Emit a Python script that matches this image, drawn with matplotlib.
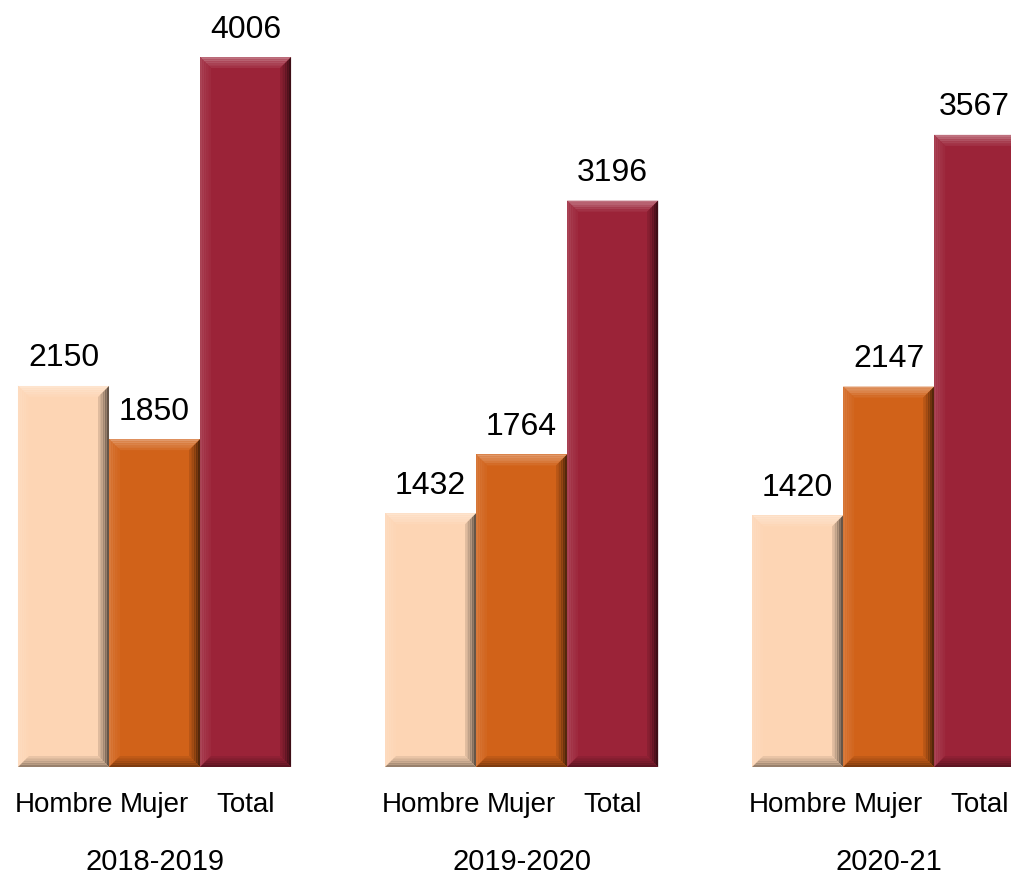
import matplotlib
matplotlib.use("Agg")
import matplotlib.pyplot as plt
from matplotlib.patches import Polygon
import numpy as np

periodos = ["2018-2019", "2019-2020", "2020-21"]
categorias = ["Hombre", "Mujer", "Total"]
hombre = [2150, 1432, 1420]
mujer = [1850, 1764, 2147]
total = [4006, 3196, 3567]

colores = ["#FDD5B4", "#D16219", "#9B2338"]

plt.rcParams["font.family"] = ["Liberation Sans", "DejaVu Sans"]


def shade(c, f):
    r = np.array(matplotlib.colors.to_rgb(c))
    if f > 0:
        return tuple(r + (1 - r) * f)
    return tuple(r * (1 + f))


def bevel(ax, patch, color, b=11, n=5):
    # soft bevelled edges drawn on top of the bar, in pixel space
    x0, y0 = patch.get_x(), patch.get_y()
    x1, y1 = x0 + patch.get_width(), y0 + patch.get_height()
    (px0, py0), (px1, py1) = ax.transData.transform([(x0, y0), (x1, y1)])
    bb = min(b, (py1 - py0) / 2)
    for k in range(n):
        a, c = bb * k / n, bb * (k + 1) / n
        t = 1 - k / n
        sides = [
            ([(px0 + a, py1 - a), (px1 - a, py1 - a), (px1 - c, py1 - c), (px0 + c, py1 - c)], 0.35),
            ([(px0 + a, py0 + a), (px0 + a, py1 - a), (px0 + c, py1 - c), (px0 + c, py0 + c)], 0.15),
            ([(px1 - a, py0 + a), (px1 - a, py1 - a), (px1 - c, py1 - c), (px1 - c, py0 + c)], -0.6),
            ([(px0 + a, py0 + a), (px1 - a, py0 + a), (px1 - c, py0 + c), (px0 + c, py0 + c)], -0.4),
        ]
        for pts, f in sides:
            ax.add_patch(Polygon(pts, closed=True, transform=None,
                                 facecolor=shade(color, f * t), edgecolor="none", zorder=3))


fig = plt.figure(figsize=(10.12, 8.77), dpi=100)
ax = fig.add_axes([0, 1 - 767 / 877, 1, 767 / 877])
ax.set_xlim(-0.421, 2.336)
ax.set_ylim(0, 4328)
ax.axis("off")

x = np.arange(len(periodos))
w = 0.248
series = [hombre, mujer, total]
etiquetas = []
for i, vals in enumerate(series):
    pos = x + (i - 1) * w
    bars = ax.bar(pos, vals, width=w, color=colores[i], zorder=2)
    for bar, v, p in zip(bars, vals, pos):
        bevel(ax, bar, colores[i])
        etiquetas.append(ax.annotate(str(v), (p, v), xytext=(0, 9), textcoords="offset points",
                                     ha="center", va="bottom", fontsize=23))
        ax.text(p, -215, categorias[i], ha="center", va="center", fontsize=20,
                clip_on=False)

for xi, per in zip(x, periodos):
    ax.text(xi, -535, per, ha="center", va="center", fontsize=21, clip_on=False)

# keep labels near the right edge inside the picture
fig.canvas.draw()
r = fig.canvas.get_renderer()
W = fig.bbox.width
for t in etiquetas:
    bb = t.get_window_extent(r)
    if bb.x1 > W - 1:
        dx = (bb.x1 - W + 2) * 72 / fig.dpi
        t.xyann = (t.xyann[0] - dx, t.xyann[1])

fig.savefig("out.png", dpi=100)
